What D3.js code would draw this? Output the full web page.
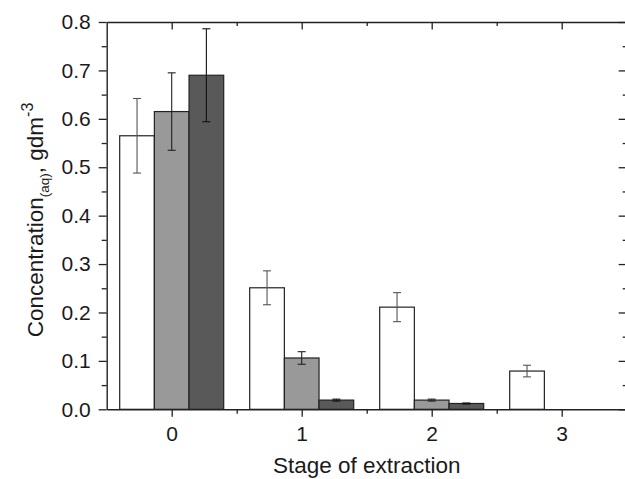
<!DOCTYPE html>
<html>
<head>
<meta charset="utf-8">
<script src="https://cdn.jsdelivr.net/npm/d3@7"></script>
<style>
  html, body { margin: 0; padding: 0; background: #fff; }
  svg { display: block; font-family: "Liberation Sans", Arial, sans-serif; }
</style>
</head>
<body>
<svg id="chart" width="625" height="479"></svg>
<script>
// Extraction stages on the x axis
const stages = [0, 1, 2, 3];
const stageLabels = ["0", "1", "2", "3"];

// Aqueous concentration (g dm^-3) per stage, three series
const valuesWhite = [0.565, 0.251, 0.211, 0.079];
const errorsWhite = [0.077, 0.035, 0.030, 0.012];
const valuesGray  = [0.615, 0.106, 0.019, 0.0];
const errorsGray  = [0.080, 0.013, 0.002, 0.0];
const valuesDark  = [0.690, 0.019, 0.012, 0.0];
const errorsDark  = [0.096, 0.002, 0.001, 0.0];

const yTicks = [0.0, 0.1, 0.2, 0.3, 0.4, 0.5, 0.6, 0.7, 0.8];
const yMinorTicks = [0.05, 0.15, 0.25, 0.35, 0.45, 0.55, 0.65, 0.75];
const xMinorTicks = [0.5, 1.5, 2.5];

const series = [
  { values: valuesWhite, errors: errorsWhite, fill: "#ffffff", err: "#555555" },
  { values: valuesGray,  errors: errorsGray,  fill: "#999999", err: "#222222" },
  { values: valuesDark,  errors: errorsDark,  fill: "#595959", err: "#111111" }
];

const plotLeft = 106.7, plotRight = 626.7, plotTop = 22, plotBottom = 409.3;
const textColor = "#1a1a1a";

const svg = d3.select("#chart");
const x = d3.scaleLinear().domain([-0.5, 3.5]).range([plotLeft, plotRight]);
const y = d3.scaleLinear().domain([0, 0.8]).range([plotBottom, plotTop]);

const groupWidth = 0.8;
const barW = groupWidth / series.length;

// Bars
series.forEach((s, i) => {
  const off = -groupWidth / 2 + i * barW;
  const g = svg.append("g");
  g.selectAll("rect")
    .data(stages.filter((d, k) => s.values[k] > 0))
    .join("rect")
    .attr("x", d => x(d + off))
    .attr("width", d => x(d + off + barW) - x(d + off))
    .attr("y", d => y(s.values[d]))
    .attr("height", d => y(0) - y(s.values[d]))
    .attr("fill", s.fill)
    .attr("stroke", "#222")
    .attr("stroke-width", 1.2);
});

// Error bars
series.forEach((s, i) => {
  const off = -groupWidth / 2 + i * barW + barW / 2;
  const g = svg.append("g").attr("stroke", s.err).attr("stroke-width", 1.1).attr("fill", "none");
  stages.forEach(d => {
    if (s.values[d] <= 0) return;
    const cx = x(d + off);
    const lo = y(s.values[d] - s.errors[d]);
    const hi = y(s.values[d] + s.errors[d]);
    g.append("line").attr("x1", cx).attr("x2", cx).attr("y1", lo).attr("y2", hi);
    g.append("line").attr("x1", cx - 4).attr("x2", cx + 4).attr("y1", lo).attr("y2", lo);
    g.append("line").attr("x1", cx - 4).attr("x2", cx + 4).attr("y1", hi).attr("y2", hi);
  });
});

function styleAxis(g) {
  g.selectAll(".domain").attr("stroke", "#222").attr("stroke-width", 1.4);
  g.selectAll(".tick line").attr("stroke", "#222").attr("stroke-width", 1.3);
}

function styleLabels(g) {
  g.selectAll("text").attr("font-size", 21).attr("fill", textColor)
    .attr("font-family", "'Liberation Sans', Arial, sans-serif");
}

// Left axis: major and minor ticks pointing out
const leftMinor = svg.append("g").attr("transform", `translate(${plotLeft},0)`)
  .call(d3.axisLeft(y).tickValues(yMinorTicks).tickSize(5).tickSizeOuter(0).tickFormat(""));
leftMinor.select(".domain").remove();
styleAxis(leftMinor);
const leftAxis = svg.append("g").attr("transform", `translate(${plotLeft},0)`)
  .call(d3.axisLeft(y).tickValues(yTicks).tickSize(8).tickSizeOuter(0).tickPadding(8)
    .tickFormat(d3.format(".1f")));
styleAxis(leftAxis);
styleLabels(leftAxis);

// Right axis: ticks pointing in
const rightMinor = svg.append("g").attr("transform", `translate(${plotRight},0)`)
  .call(d3.axisLeft(y).tickValues(yMinorTicks).tickSize(4).tickSizeOuter(0).tickFormat(""));
rightMinor.select(".domain").remove();
styleAxis(rightMinor);
const rightAxis = svg.append("g").attr("transform", `translate(${plotRight},0)`)
  .call(d3.axisLeft(y).tickValues(yTicks).tickSize(8).tickSizeOuter(0).tickFormat(""));
styleAxis(rightAxis);

// Bottom axis: ticks pointing out
const bottomMinor = svg.append("g").attr("transform", `translate(0,${plotBottom})`)
  .call(d3.axisBottom(x).tickValues(xMinorTicks).tickSize(4.5).tickSizeOuter(0).tickFormat(""));
bottomMinor.select(".domain").remove();
styleAxis(bottomMinor);
const bottomAxis = svg.append("g").attr("transform", `translate(0,${plotBottom})`)
  .call(d3.axisBottom(x).tickValues(stages).tickSize(7.5).tickSizeOuter(0).tickPadding(9)
    .tickFormat((d, i) => stageLabels[i]));
styleAxis(bottomAxis);
styleLabels(bottomAxis);

// Top axis: ticks pointing in
const topMinor = svg.append("g").attr("transform", `translate(0,${plotTop})`)
  .call(d3.axisBottom(x).tickValues(xMinorTicks).tickSize(4).tickSizeOuter(0).tickFormat(""));
topMinor.select(".domain").remove();
styleAxis(topMinor);
const topAxis = svg.append("g").attr("transform", `translate(0,${plotTop})`)
  .call(d3.axisBottom(x).tickValues(stages).tickSize(7.5).tickSizeOuter(0).tickFormat(""));
styleAxis(topAxis);

// Axis titles
svg.append("text")
  .attr("x", (plotLeft + plotRight) / 2)
  .attr("y", 473)
  .attr("text-anchor", "middle")
  .attr("font-size", 22.5)
  .attr("fill", textColor)
  .text("Stage of extraction");

const yTitle = svg.append("text")
  .attr("transform", "translate(43,220) rotate(-90)")
  .attr("text-anchor", "middle")
  .attr("font-size", 22.5)
  .attr("fill", textColor);
yTitle.append("tspan").text("Concentration");
yTitle.append("tspan").attr("font-size", 13.5).attr("dy", 6).text("(aq)");
yTitle.append("tspan").attr("dy", -6).text(", gdm");
yTitle.append("tspan").attr("font-size", 16).attr("dy", -10).text("-3");
</script>
</body>
</html>
